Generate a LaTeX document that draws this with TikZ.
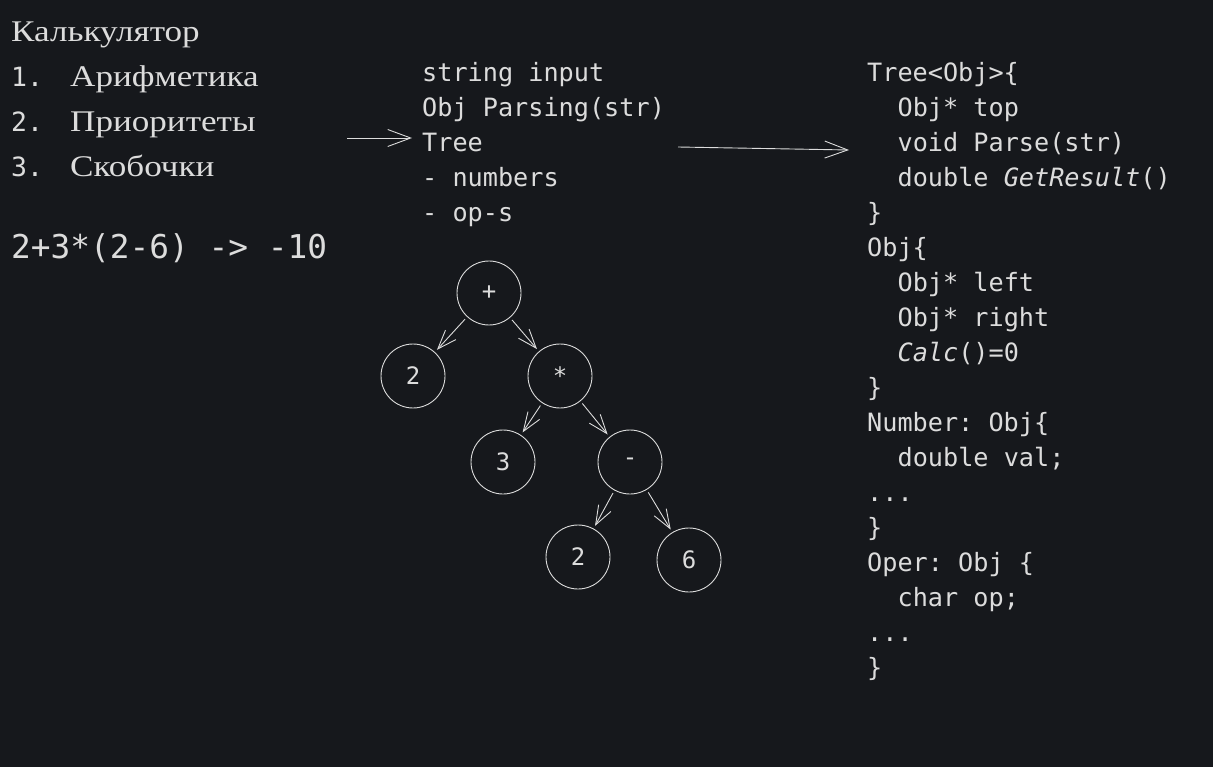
\documentclass[tikz,border=0pt]{standalone}
\usepackage{fontspec}
\setmainfont{Liberation Serif}[FakeStretch=1.17]
\setmonofont{DejaVu Sans Mono}
\usetikzlibrary{arrows.meta}
\definecolor{bg}{HTML}{16181C}
\definecolor{ink}{HTML}{DCDCDC}
\begin{document}
\begin{tikzpicture}[x=1pt,y=-1pt,
    ru/.style={ink,inner sep=0,anchor=base west,font=\fontsize{30}{36}\selectfont},
    num/.style={ink,inner sep=0,anchor=base west,font=\fontsize{26.5}{32}\selectfont\ttfamily},
    code/.style={ink,inner sep=0,anchor=base west,font=\fontsize{25.2}{30}\selectfont\ttfamily},
    ball/.style={circle,draw=ink,line width=0.9pt,minimum size=64pt,inner sep=0,ink,font=\fontsize{24}{30}\selectfont\ttfamily},
    edge/.style={draw=ink,line width=0.9pt,-{Straight Barb[length=19pt,width=14pt]},shorten <=3pt,shorten >=3pt},
    bigarrow/.style={draw=ink,line width=0.9pt,-{Straight Barb[length=23pt,width=17pt]}}]
  \useasboundingbox (0,0) rectangle (1213,767);
  \fill[bg] (0,0) rectangle (1213,767);
  % task list
  \node[ru] (title) at (11,41.7) {Калькулятор};
  \foreach \t [count=\i] in {Арифметика, Приоритеты, Скобочки}{
    \node[num] (n\i) at (11,41.7+45*\i) {\i.};
    \node[ru] (item\i) at (70,41.7+45*\i) {\t};
  }
  \node[num,font=\fontsize{32.8}{38}\selectfont\ttfamily] (expr) at (11,258.3) {2+3*(2-6) -> -10};
  % parsing notes
  \foreach \t [count=\i from 0] in {string input, Obj Parsing(str), Tree, - numbers, - op-s}
    \node[code] (parse\i) at (422,81.7+35*\i) {\t};
  % class sketch
  \foreach \ind/\t [count=\i from 0] in {0/Tree<Obj>\{, 1/Obj* top, 1/void Parse(str), 1/double \textit{GetResult}(),
      0/\}, 0/Obj\{, 1/Obj* left, 1/Obj* right, 1/\textit{Calc}()=0, 0/\}, 0/Number: Obj\{, 1/double val;,
      0/.{}.{}., 0/\}, 0/Oper: Obj \{, 1/char op;, 0/.{}.{}., 0/\}}
    \node[code] (cls\i) at (867+30.4*\ind,81.7+35*\i) {\t};
  % expression tree
  \node[ball] (plus)  at (489,293) {+};
  \node[ball] (two)   at (413,376) {2};
  \node[ball] (times) at (560,376) {*};
  \node[ball] (three) at (503,462) {3};
  \node[ball] (minus) at (630,462) {-};
  \node[ball] (twob)  at (578,557) {2};
  \node[ball] (six)   at (689,560) {6};
  \foreach \a/\b in {plus/two, plus/times, times/three, times/minus, minus/twob, minus/six}
    \draw[edge] (\a) -- (\b);
  % arrows
  \coordinate (inA) at (347,138);
  \draw[bigarrow,shorten >=10pt] (inA) -- (parse2.west |- inA);
  \coordinate (outA) at (678,147);
  \coordinate (outB) at (849,150);
  \draw[bigarrow] (outA) -- (outB);
\end{tikzpicture}
\end{document}
